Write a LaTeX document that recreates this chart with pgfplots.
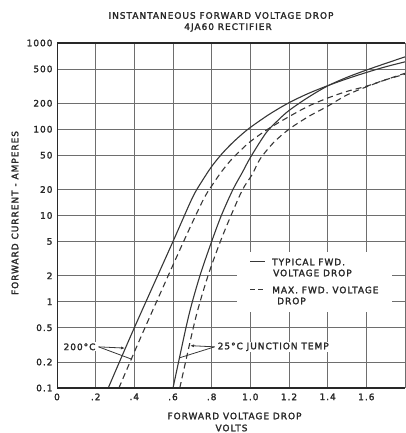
\documentclass[border=0pt]{standalone}
\usepackage{pgfplots}
\pgfplotsset{compat=1.18}
\usepackage{fontspec}
\setmainfont{DejaVu Sans}[LetterSpace=11, FakeBold=2]
\usetikzlibrary{arrows.meta}
\definecolor{ink}{RGB}{40,40,40}
\definecolor{gridc}{RGB}{110,110,110}
\definecolor{curve}{RGB}{55,55,55}
\newcommand\lab{\fontsize{9}{10}\selectfont}
\begin{document}
\begin{tikzpicture}[x=1bp,y=1bp]
\useasboundingbox (0,0) rectangle (405,433);
\begin{axis}[
  at={(57bp,45bp)}, anchor=south west, scale only axis,
  width=348bp, height=345bp,
  xmin=0, xmax=1.8, ymin=0.1, ymax=1000, ymode=log,
  xtick={0,0.2,0.4,0.6,0.8,1.0,1.2,1.4,1.6,1.8},
  xticklabels={0,.2,.4,.6,.8,1.0,1.2,1.4,1.6,{}},
  ytick={0.1,0.2,0.5,1,2,5,10,20,50,100,200,500,1000},
  yticklabels={0.1,0.2,0.5,1,2,5,10,20,50,100,200,500,1000},
  yminorticks=false, xminorticks=false,
  grid=major, major grid style={gridc, line width=0.8bp},
  major tick length=0pt,
  axis line style={draw=none},
  ticklabel style={font=\lab, text=ink},
  /pgf/number format/assume math mode=true,
  yticklabel style={xshift=-1bp},
  xticklabel style={yshift=-2bp},
]
\addplot[curve, line width=1.1bp, smooth] coordinates {
(0.265,0.1)(0.40,0.5)(0.60,5)(0.70,16)(0.75,25)(0.80,37)(0.85,51)(0.90,67)(0.95,85)(1.0,105)(1.1,150)(1.2,203)(1.3,260)(1.4,320)(1.5,385)(1.6,455)(1.7,530)(1.8,605)};
\addplot[curve, line width=1.1bp, smooth, dash pattern=on 6bp off 4bp] coordinates {
(0.32,0.1)(0.455,0.5)(0.655,5)(0.755,15)(0.80,22)(0.85,32)(0.90,44)(0.95,57)(1.0,72)(1.09,100)(1.2,140)(1.3,185)(1.4,230)(1.5,275)(1.6,315)(1.7,375)(1.8,435)};
\addplot[curve, line width=1.1bp, smooth] coordinates {
(0.60,0.1)(0.667,0.5)(0.70,1)(0.745,2.2)(0.80,5)(0.85,10)(0.91,20)(0.96,32)(1.0,47)(1.08,90)(1.14,125)(1.2,165)(1.3,235)(1.4,318)(1.5,400)(1.6,485)(1.7,580)(1.8,690)};
\addplot[curve, line width=1.1bp, smooth, dash pattern=on 6bp off 4bp] coordinates {
(0.635,0.1)(0.705,0.5)(0.74,1)(0.787,2.2)(0.845,5)(0.90,10)(0.96,20)(1.01,30)(1.05,45)(1.12,70)(1.2,100)(1.3,140)(1.4,185)(1.5,250)(1.6,310)(1.7,375)(1.8,445)};
\draw[ink, line width=1.4bp] (rel axis cs:1,1) -- (rel axis cs:0,1) -- (rel axis cs:0,0) -- (rel axis cs:1,0);
% annotations
\node[anchor=east, fill=white, inner sep=1bp, font=\lab, text=ink] at (axis cs:0.205,0.3) {200°C};
\draw[curve, line width=0.8bp, -{Latex[length=4bp,width=3bp]}] (axis cs:0.215,0.3) -- (axis cs:0.352,0.29);
\draw[curve, line width=0.8bp] (axis cs:0.215,0.3) -- (axis cs:0.388,0.215);
\node[anchor=west, fill=white, inner sep=1bp, font=\lab, text=ink] at (axis cs:0.825,0.3) {25°C JUNCTION TEMP};
\draw[curve, line width=0.8bp, -{Latex[length=4bp,width=3bp]}] (axis cs:0.815,0.3) -- (axis cs:0.688,0.31);
\draw[curve, line width=0.8bp] (axis cs:0.815,0.3) -- (axis cs:0.634,0.224);
\end{axis}
% legend
\fill[white] (237,121) rectangle (392,181);
\draw[curve, line width=1bp] (250,171) -- (265,171);
\node[anchor=west, inner sep=0pt, font=\lab, text=ink] at (272,171) {TYPICAL FWD.};
\node[anchor=west, inner sep=0pt, font=\lab, text=ink] at (273,160) {VOLTAGE DROP};
\draw[curve, line width=1bp, dash pattern=on 5bp off 3bp] (250,143) -- (266,143);
\node[anchor=west, inner sep=0pt, font=\lab, text=ink] at (272,143) {MAX. FWD. VOLTAGE};
\node[anchor=west, inner sep=0pt, font=\lab, text=ink] at (277,132) {DROP};
% titles and labels
\node[font=\lab, text=ink] at (221,417.5) {INSTANTANEOUS FORWARD VOLTAGE DROP};
\node[font=\lab, text=ink] at (228,405.5) {4JA60 RECTIFIER};
\node[font=\lab, text=ink] at (234.5,17) {FORWARD VOLTAGE DROP};
\node[font=\lab, text=ink] at (231.5,5) {VOLTS};
\node[font=\lab, text=ink, rotate=90] at (15,220) {FORWARD CURRENT - AMPERES};
\end{tikzpicture}
\end{document}
